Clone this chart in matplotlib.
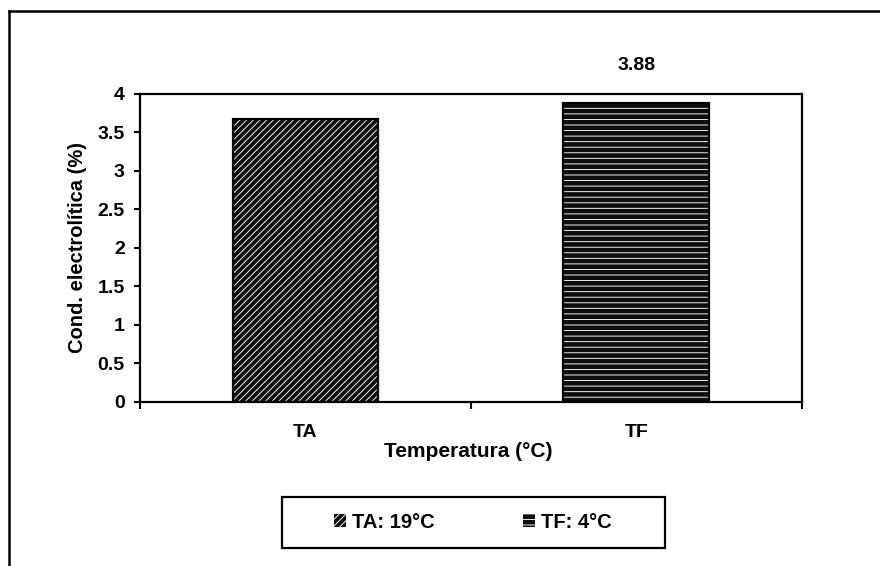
import matplotlib
matplotlib.use('Agg')
import matplotlib.pyplot as plt
from matplotlib.lines import Line2D
from matplotlib.patches import Rectangle

# Datos del gráfico
categorias = ["TA", "TF"]
valores = [3.67, 3.88]
leyenda = ["TA: 19°C", "TF: 4°C"]
tramas = ["/////", "---"]
etiqueta_dato = "3.88"  # solo se rotula la barra TF

plt.rcParams['font.family'] = ['Liberation Sans', 'DejaVu Sans']
plt.rcParams['font.weight'] = 'bold'
plt.rcParams['hatch.linewidth'] = 0.65

fig = plt.figure(figsize=(8.8, 5.66), dpi=100)
ax = fig.add_axes([0.159, 0.290, 0.752, 0.544])

x = list(range(len(categorias)))

# Relleno oscuro con trama blanca
barras = ax.bar(x, valores, width=0.44, color='#0d0d0d', edgecolor='white',
                linewidth=0)
for b, t in zip(barras, tramas):
    b.set_hatch(t)
# Borde negro encima
ax.bar(x, valores, width=0.44, fill=False, edgecolor='black', linewidth=1.6)

ax.annotate(etiqueta_dato, xy=(1, valores[1]), xytext=(0, 21),
            textcoords='offset points', ha='center', va='bottom',
            fontsize=14, fontweight='bold')

ax.set_xlim(-0.5, 1.5)
ax.set_ylim(0, 4)
ax.set_yticks([0, 0.5, 1, 1.5, 2, 2.5, 3, 3.5, 4])
ax.set_yticklabels(['0', '0.5', '1', '1.5', '2', '2.5', '3', '3.5', '4'])
ax.set_xticks(x)
ax.set_xticklabels(categorias)
ax.set_xticks([-0.5, 0.5, 1.5], minor=True)

ax.tick_params(axis='y', direction='out', length=4, width=1.5, labelsize=14, pad=7)
ax.tick_params(axis='x', which='major', length=0, labelsize=14, pad=16)
ax.tick_params(axis='x', which='minor', direction='out', length=5, width=1.5)
for s in ax.spines.values():
    s.set_linewidth(1.6)

ax.set_xlabel('Temperatura (°C)', fontsize=15, fontweight='bold')
ax.xaxis.set_label_coords(0.496, -0.13)
ax.set_ylabel('Cond. electrolítica (%)', fontsize=14.5, fontweight='bold')
ax.yaxis.set_label_coords(-0.08, 0.5)

# Caja de la leyenda
fig.add_artist(Rectangle((282 / 880, 1 - 548 / 566), 383 / 880, 51 / 566,
                         transform=fig.transFigure, fill=False,
                         edgecolor='black', linewidth=1.6))
fig.legend(barras, leyenda, loc='center', bbox_to_anchor=(0.537, 0.077),
           ncol=2, frameon=False, fontsize=14.5,
           handlelength=0.6, handleheight=0.6, handletextpad=0.3,
           columnspacing=4.4, borderaxespad=0)

# Marco exterior (solo se ven los bordes superior e izquierdo)
fig.add_artist(Line2D([9 / 880, 1], [1 - 11 / 566, 1 - 11 / 566],
                      transform=fig.transFigure, color='black', linewidth=1.8))
fig.add_artist(Line2D([9 / 880, 9 / 880], [0, 1 - 11 / 566],
                      transform=fig.transFigure, color='black', linewidth=1.8))

fig.savefig('out.png', dpi=100)
plt.close(fig)
